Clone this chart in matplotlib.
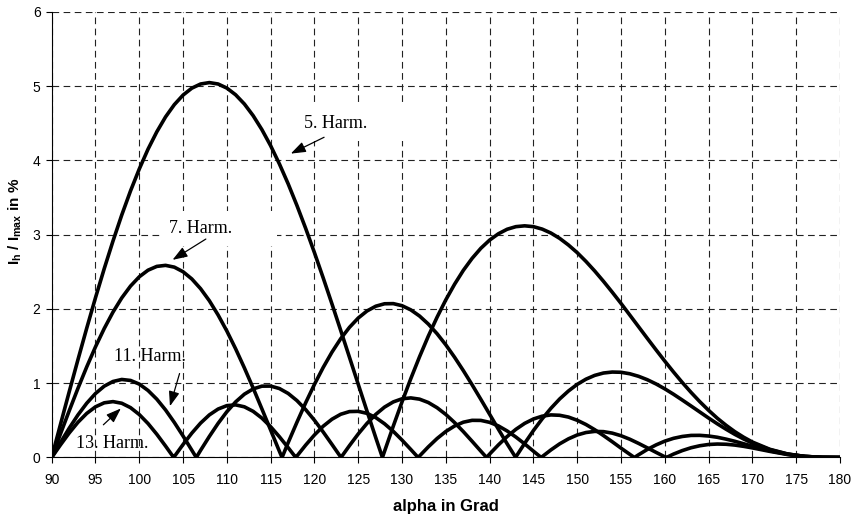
import matplotlib
matplotlib.use("Agg")
import matplotlib.pyplot as plt

plt.rcParams['font.family'] = 'Liberation Sans'
plt.rcParams['mathtext.fontset'] = 'custom'
plt.rcParams['mathtext.rm'] = 'Liberation Sans'
plt.rcParams['mathtext.bf'] = 'Liberation Sans:bold'
plt.rcParams['mathtext.default'] = 'bf'

# firing angle grid (degrees) and harmonic currents, in % of I_max
alpha = list(range(90, 171)) + [172, 174, 176, 178, 180]

harm_5 = [0, 0.444, 0.884, 1.317, 1.740, 2.150, 2.542, 2.914, 3.264, 3.588,   # 90-99
          3.883, 4.150, 4.383, 4.584, 4.749, 4.878, 4.971, 5.027, 5.046, 5.027,
          4.972, 4.882, 4.758, 4.601, 4.413, 4.196, 3.951, 3.683, 3.392, 3.083,
          2.757, 2.417, 2.067, 1.710, 1.348, 0.985, 0.624, 0.267, 0.082, 0.422,
          0.749, 1.061, 1.356, 1.633, 1.888, 2.122, 2.332, 2.519, 2.680, 2.816,
          2.926, 3.011, 3.072, 3.107, 3.118, 3.107, 3.074, 3.021, 2.949, 2.860,
          2.757, 2.639, 2.510, 2.371, 2.225, 2.074, 1.918, 1.761, 1.604, 1.449,
          1.297, 1.150, 1.009, 0.876, 0.751, 0.635, 0.528, 0.433, 0.347, 0.273,
          0.208, 0.110, 0.048, 0.014, 0.002, 0]
harm_7 = [0, 0.317, 0.628, 0.931, 1.219, 1.489, 1.736, 1.957, 2.148, 2.307,
          2.432, 2.521, 2.572, 2.586, 2.562, 2.500, 2.403, 2.272, 2.110, 1.918,
          1.702, 1.463, 1.206, 0.935, 0.654, 0.369, 0.083, 0.200, 0.474, 0.737,
          0.984, 1.212, 1.418, 1.599, 1.752, 1.877, 1.972, 2.036, 2.069, 2.071,
          2.043, 1.987, 1.904, 1.796, 1.666, 1.516, 1.349, 1.169, 0.979, 0.782,
          0.582, 0.381, 0.184, 0.008, 0.190, 0.362, 0.520, 0.662, 0.788, 0.895,
          0.984, 1.054, 1.105, 1.137, 1.150, 1.147, 1.127, 1.093, 1.047, 0.990,
          0.924, 0.851, 0.773, 0.693, 0.612, 0.531, 0.453, 0.380, 0.311, 0.249,
          0.193, 0.105, 0.046, 0.014, 0.002, 0]
harm_11 = [0, 0.201, 0.394, 0.573, 0.730, 0.861, 0.960, 1.023, 1.050, 1.037,
           0.988, 0.902, 0.785, 0.640, 0.472, 0.289, 0.098, 0.096, 0.283, 0.459,
           0.616, 0.748, 0.852, 0.923, 0.960, 0.961, 0.928, 0.862, 0.766, 0.644,
           0.501, 0.343, 0.176, 0.006, 0.160, 0.317, 0.459, 0.580, 0.678, 0.748,
           0.790, 0.802, 0.785, 0.740, 0.670, 0.579, 0.470, 0.348, 0.218, 0.085,
           0.046, 0.169, 0.282, 0.379, 0.459, 0.518, 0.556, 0.573, 0.568, 0.544,
           0.501, 0.444, 0.374, 0.295, 0.212, 0.126, 0.043, 0.036, 0.108, 0.169,
           0.220, 0.258, 0.283, 0.297, 0.298, 0.289, 0.272, 0.247, 0.218, 0.185,
           0.152, 0.090, 0.043, 0.014, 0.002, 0]
harm_13 = [0, 0.169, 0.330, 0.474, 0.593, 0.682, 0.736, 0.752, 0.730, 0.671,
           0.578, 0.457, 0.313, 0.154, 0.012, 0.175, 0.328, 0.463, 0.573, 0.652,
           0.698, 0.708, 0.682, 0.621, 0.530, 0.414, 0.279, 0.132, 0.019, 0.167,
           0.303, 0.421, 0.515, 0.582, 0.618, 0.621, 0.594, 0.537, 0.454, 0.352,
           0.234, 0.108, 0.020, 0.143, 0.255, 0.350, 0.424, 0.475, 0.500, 0.499,
           0.473, 0.425, 0.357, 0.275, 0.183, 0.085, 0.011, 0.102, 0.184, 0.251,
           0.303, 0.336, 0.351, 0.348, 0.328, 0.293, 0.246, 0.190, 0.130, 0.069,
           0.009, 0.046, 0.093, 0.131, 0.158, 0.175, 0.181, 0.178, 0.167, 0.150,
           0.129, 0.082, 0.040, 0.013, 0.002, 0]

# angles where each harmonic touches zero (the cusps)
zeros_5 = [127.76]
zeros_7 = [116.3, 142.98]
zeros_11 = [106.51, 123.03, 139.65, 156.53]
zeros_13 = [103.93, 117.87, 131.84, 145.89, 160.18]

x_ticks = list(range(90, 181, 5))
y_ticks = [0, 1, 2, 3, 4, 5, 6]


def with_zeros(vals, zeros):
    pts = sorted(list(zip(alpha, vals)) + [(z, 0.0) for z in zeros])
    return [p[0] for p in pts], [p[1] for p in pts]


fig = plt.figure(figsize=(8.6, 5.16), dpi=100)
ax = fig.add_axes([0.0601, 0.1134, 0.9166, 0.8639])

for vals, zeros in [(harm_5, zeros_5), (harm_7, zeros_7), (harm_11, zeros_11), (harm_13, zeros_13)]:
    x, y = with_zeros(vals, zeros)
    ax.plot(x, y, color='black', lw=2.6, zorder=3)

ax.set_xlim(90, 180)
ax.set_ylim(0, 6)
ax.set_xticks(x_ticks)
ax.set_yticks(y_ticks)
ax.set_axisbelow(True)
ax.grid(True, color='#222222', lw=0.8, linestyle=(0, (6, 4)))

for s in ['top', 'right']:
    ax.spines[s].set_visible(False)
for s in ['left', 'bottom']:
    ax.spines[s].set_linewidth(0.8)
ax.tick_params(axis='x', direction='out', length=4, width=0.8, pad=7, labelsize=10)
ax.tick_params(axis='y', direction='out', length=4, width=0.8, pad=4, labelsize=10)

ax.set_xlabel('alpha in Grad', fontsize=12, fontweight='bold')
ax.xaxis.set_label_coords(0.5, -0.094)
ax.set_ylabel('I$_{h}$ / I$_{max}$ in %', fontsize=11, fontweight='bold')
ax.yaxis.set_label_coords(-0.035, 0.53)

# labels with arrows; the 5th and 7th sit in wide white text boxes
serif = 'Liberation Serif'
arrow = dict(arrowstyle='-|>,head_length=0.5,head_width=0.18', color='black', lw=0.9,
             shrinkA=0, shrinkB=0, mutation_scale=18)
box = dict(boxstyle='square,pad=0.5', fc='white', ec='none')

ax.text(118.8, 4.50, '5. Harm.' + ' ' * 8, family=serif, fontsize=13, ha='left', va='center',
        bbox=box, zorder=2)
ax.annotate('', xy=(117.3, 4.09), xytext=(121.1, 4.31), arrowprops=arrow, zorder=4)

ax.text(103.4, 3.08, '7. Harm.' + ' ' * 8, family=serif, fontsize=13, ha='left', va='center',
        bbox=box, zorder=2)
ax.annotate('', xy=(103.8, 2.66), xytext=(107.6, 2.94), arrowprops=arrow, zorder=4)

ax.text(101.2, 1.36, '11. Harm.', family=serif, fontsize=13, ha='center', va='center', zorder=4)
ax.annotate('', xy=(103.5, 0.69), xytext=(104.6, 1.13), arrowprops=arrow, zorder=4)

ax.text(96.9, 0.19, '13. Harm.', family=serif, fontsize=13, ha='center', va='center', zorder=4)
ax.annotate('', xy=(97.9, 0.66), xytext=(95.9, 0.44), arrowprops=arrow, zorder=4)

fig.savefig('out.png', dpi=100)
